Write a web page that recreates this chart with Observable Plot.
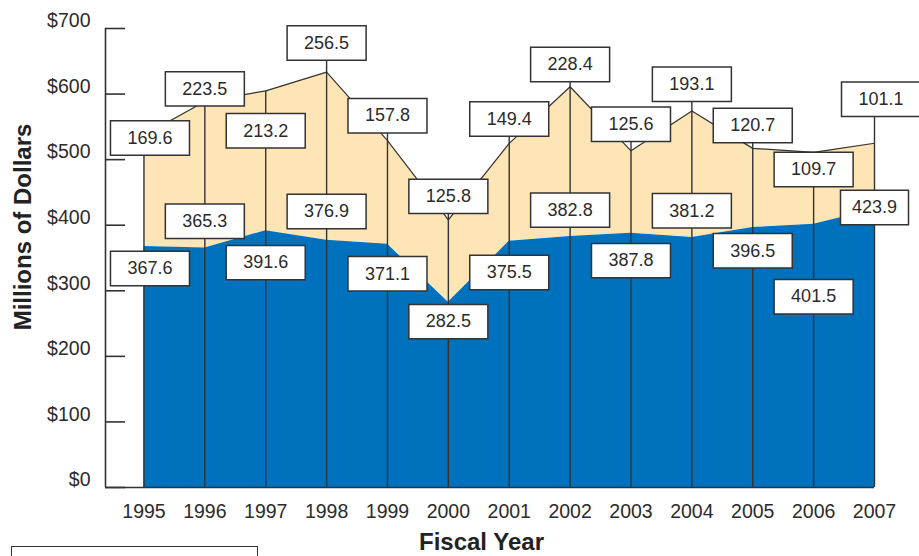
<!DOCTYPE html>
<html><head><meta charset="utf-8">
<script src="https://cdn.jsdelivr.net/npm/d3@7"></script>
<script src="https://cdn.jsdelivr.net/npm/@observablehq/plot@0.6"></script>
<style>
html,body{margin:0;padding:0;background:#fff;overflow:hidden;}
#wrap{position:relative;width:919px;height:556px;}
#legend{position:absolute;left:11px;top:546px;width:247px;height:30px;border:1.5px solid #333;box-sizing:border-box;background:#fff;}
</style></head>
<body><div id="wrap"><div id="chart"></div><div id="legend"></div></div>
<script>
// ---- data ----
const years = [1995, 1996, 1997, 1998, 1999, 2000, 2001, 2002, 2003, 2004, 2005, 2006, 2007];
const baseValues = [367.6, 365.3, 391.6, 376.9, 371.1, 282.5, 375.5, 382.8, 387.8, 381.2, 396.5, 401.5, 423.9];
const addedValues = [169.6, 223.5, 213.2, 256.5, 157.8, 125.8, 149.4, 228.4, 125.6, 193.1, 120.7, 109.7, 101.1];
const yTicks = [0, 100, 200, 300, 400, 500, 600, 700];

// ---- label placement (layout, in $ millions) ----
const upperLabelAt = [533, 608, 544, 678, 567, 444, 562, 645, 554, 615, 552, 485, 592];
const lowerLabelAt = [334, 406, 343, 421, 326, 253, 328, 423, 346, 422, 361, 291, 427];

const BLUE = "#0071BC", TAN = "#FEE5B5", INK = "#2b2b2b", LINE = "#333";

const rows = years.map((year, i) => {
  const total = baseValues[i] + addedValues[i];
  return {year, base: baseValues[i], added: addedValues[i], total,
          upperAt: upperLabelAt[i], lowerAt: lowerLabelAt[i],
          ruleTop: Math.max(total, upperLabelAt[i])};
});

const boxSymbol = {draw(ctx, size) {
  const w = Math.sqrt(size / Math.PI), h = 17.2;
  ctx.moveTo(-w, -h); ctx.lineTo(w, -h); ctx.lineTo(w, h); ctx.lineTo(-w, h); ctx.closePath();
}};

function boxLabels(data, valueKey, atKey, {dx = 0, r = 39.5} = {}) {
  return [
    Plot.dot(data, {x: "year", y: atKey, r, symbol: boxSymbol, fill: "white", stroke: LINE, strokeWidth: 1.5, dx}),
    Plot.text(data, {x: "year", y: atKey, text: d => d[valueKey].toFixed(1), dx, fontSize: 18, fill: INK})
  ];
}
const first = d => d.year === years[0];
const last = d => d.year === years[years.length - 1];
const mid = d => !first(d) && !last(d);

const xStart = 1994.368;

const chart = Plot.plot({
  width: 919, height: 556,
  marginLeft: 105, marginRight: 45, marginTop: 28, marginBottom: 69,
  style: {fontFamily: "'Liberation Sans', Arial, sans-serif", color: INK, background: "#fff"},
  x: {type: "linear", domain: [xStart, 2007]},
  y: {domain: [0, 700]},
  marks: [
    Plot.areaY(rows, {x: "year", y1: "base", y2: "total", fill: TAN}),
    Plot.areaY(rows, {x: "year", y1: 0, y2: "base", fill: BLUE}),
    Plot.lineY(rows, {x: "year", y: "total", stroke: LINE, strokeWidth: 1.2}),
    Plot.ruleX(rows, {x: "year", y1: 0, y2: "ruleTop", stroke: LINE, strokeWidth: 1.4}),
    Plot.ruleY([0], {stroke: LINE, strokeWidth: 1.6}),
    Plot.ruleX([xStart], {stroke: LINE, strokeWidth: 1.6}),
    Plot.tickY(yTicks, {y: d => d, insetRight: 749, stroke: LINE, strokeWidth: 1.6}),
    Plot.axisY({ticks: yTicks, tickSize: 0, tickPadding: 15, tickFormat: d => "$" + d, fontSize: 19.5, dy: -7.5, label: null}),
    Plot.axisX({ticks: years, tickSize: 0, tickPadding: 17, tickFormat: "d", fontSize: 19.5, label: null}),
    Plot.text(["Fiscal Year"], {text: d => d, frameAnchor: "bottom", lineAnchor: "middle", textAnchor: "middle", dx: -8.5, dy: 55, fontSize: 24, fontWeight: "bold", fill: "#222"}),
    Plot.text(["Millions of Dollars"], {text: d => d, frameAnchor: "left", textAnchor: "middle", lineAnchor: "middle", rotate: -90, dx: -82.5, dy: -31, fontSize: 24, fontWeight: "bold", fill: "#222"}),
    ...boxLabels(rows.filter(mid), "added", "upperAt"),
    ...boxLabels(rows.filter(first), "added", "upperAt", {dx: 6}),
    ...boxLabels(rows.filter(last), "added", "upperAt", {dx: 6.5}),
    ...boxLabels(rows.filter(mid), "base", "lowerAt"),
    ...boxLabels(rows.filter(first), "base", "lowerAt", {dx: 6}),
    ...boxLabels(rows.filter(last), "base", "lowerAt", {r: 34})
  ]
});
document.getElementById("chart").append(chart);
</script>
</body></html>
